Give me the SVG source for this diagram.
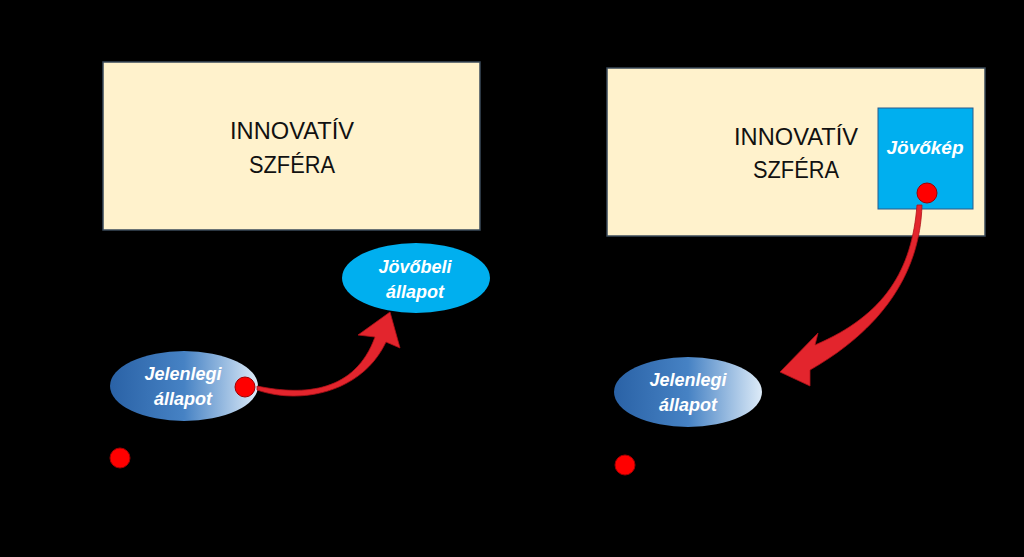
<svg xmlns="http://www.w3.org/2000/svg" width="1024" height="557" viewBox="0 0 1024 557">
<defs>
<linearGradient id="jel" x1="0" y1="0" x2="1" y2="0">
<stop offset="0" stop-color="#2A62A6"/>
<stop offset="0.5" stop-color="#4682C4"/>
<stop offset="1" stop-color="#DDEBF8"/>
</linearGradient>
<style>
.sphere{fill:#FFF2CC;stroke:#3A4A5A;stroke-width:1.5}
.big{font-family:"Liberation Sans",Arial,sans-serif;font-size:24px;fill:#111;text-anchor:middle}
.lbl{font-family:"Liberation Sans",Arial,sans-serif;font-size:18px;font-weight:bold;font-style:italic;fill:#fff;text-anchor:middle}
.dot{fill:#FF0000;stroke:#A00000;stroke-width:1}
.arrow{fill:#E3252D;stroke:#B01018;stroke-width:0.8}
.cyan{fill:#00AFEF}
</style>
</defs>
<rect width="1024" height="557" fill="#000"/>

<g id="left-sphere">
<rect class="sphere" x="103" y="62" width="377" height="168"/>
<text class="big" x="292" y="139" textLength="124" lengthAdjust="spacingAndGlyphs">INNOVATÍV</text>
<text class="big" x="292" y="173" textLength="86" lengthAdjust="spacingAndGlyphs">SZFÉRA</text>
</g>

<g id="left-future">
<ellipse class="cyan" cx="416" cy="278" rx="74" ry="35"/>
<text class="lbl" x="415" y="273">Jövőbeli</text>
<text class="lbl" x="415" y="298">állapot</text>
</g>

<g id="left-current">
<ellipse cx="184" cy="386" rx="74" ry="35" fill="url(#jel)"/>
<text class="lbl" x="183" y="380">Jelenlegi</text>
<text class="lbl" x="183" y="405">állapot</text>
<circle class="dot" cx="245" cy="387" r="10"/>
</g>

<g id="left-dot">
<circle class="dot" cx="120" cy="458" r="10"/>
</g>

<g id="right-sphere">
<rect class="sphere" x="607" y="68" width="378" height="168"/>
<text class="big" x="796" y="145" textLength="124" lengthAdjust="spacingAndGlyphs">INNOVATÍV</text>
<text class="big" x="796" y="178" textLength="86" lengthAdjust="spacingAndGlyphs">SZFÉRA</text>
</g>

<g id="right-vision">
<rect class="cyan" x="878" y="108" width="95" height="101" stroke="#2A5A8A" stroke-width="1"/>
<text class="lbl" x="925" y="154" style="font-size:19px">Jövőkép</text>
<circle class="dot" cx="927" cy="193" r="10"/>
</g>

<g id="right-current">
<ellipse cx="688" cy="392" rx="74" ry="35" fill="url(#jel)"/>
<text class="lbl" x="688" y="386">Jelenlegi</text>
<text class="lbl" x="688" y="411">állapot</text>
</g>

<g id="right-dot">
<circle class="dot" cx="625" cy="465" r="10"/>
</g>

<g id="connectors">
<path class="arrow" d="M257,386 C305,396 355,392 375,337 L358,335 L390,312 L400,348 L386,342 C362,393 300,405 257,390 Z"/>
<path class="arrow" d="M917,205 C912,270 885,315 815,345 L818,333 L780,372 L810,386 L810,370 C880,330 920,275 922,205 Z"/>
</g>
</svg>
